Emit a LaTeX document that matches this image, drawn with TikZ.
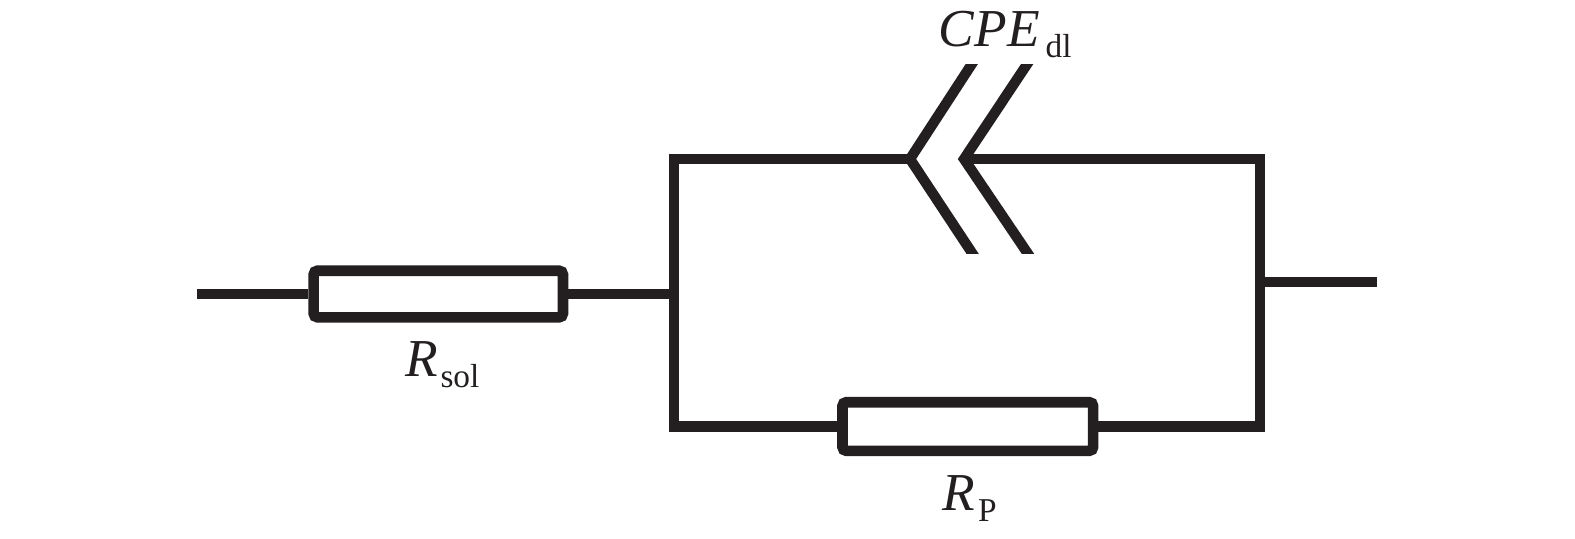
\documentclass[tikz,border=0pt]{standalone}
\usepackage{fontspec}
\setmainfont{Liberation Serif}
\usepackage{tikz}
\definecolor{wirecol}{RGB}{35,31,32}
\tikzset{wire/.style={line width=7.7pt,color=wirecol,line join=miter},
  plate/.style={line width=7.7pt,color=wirecol,line join=miter},
  resistor/.style={draw=wirecol,line width=8pt,rounded corners=3pt,inner sep=0pt},
  lbl/.style={inner sep=0pt,anchor=base west,color=wirecol,font=\fontsize{40}{40}\selectfont}}
\newcommand{\lblsub}[3]{\textit{#1}\kern#3\raisebox{-8.8pt}{\fontsize{25}{25}\selectfont #2}}
\begin{document}
\begin{tikzpicture}[x=0.75pt,y=0.75pt,yscale=-1,xscale=1]
\useasboundingbox (0,0) rectangle (1575,539);
% resistors
\node [resistor,minimum width=187pt,minimum height=35pt] (rsol) at (438.3,294) {};
\node [resistor,minimum width=188pt,minimum height=36.5pt] (rp) at (967.8,426.5) {};
% free ends and corners
\coordinate (in) at (197,294);
\coordinate (out) at (1377,282);
\coordinate (lj) at (674,294);
\coordinate (tl) at (674,159);
\coordinate (bl) at (674,426.5);
\coordinate (tr) at (1260,159);
\coordinate (br) at (1260,426.5);
\coordinate (rj) at (1260,282);
\coordinate (cpea) at (910,159);
\coordinate (cpeb) at (964,159);
%wires
\draw [wire] (in) -- (rsol);
\draw [wire] (rsol) -- (lj);
\draw [wire] (cpea) -- (tl) -- (bl) -- (rp);
\draw [wire] (cpeb) -- (tr) -- (br) -- (rp);
\draw [wire] (rj) -- (out);
%CPE plates, cut level at top and bottom
\begin{scope}
\clip (880,64) rectangle (1060,253.3);
\draw [plate] (977,56) -- (cpea) -- (978,262);
\draw [plate] (1032.5,56) -- (cpeb) -- (1033.5,262);
\end{scope}
% Text Node
\node [lbl] (lsol) at (405,376) {\lblsub{R}{sol}{2pt}};
% Text Node
\node [lbl] (lp) at (942.5,510) {\lblsub{R}{P}{2pt}};
% Text Node
\node [lbl] (lcpe) at (938.6,46) {\lblsub{CPE}{dl}{4.5pt}};
\end{tikzpicture}
\end{document}
